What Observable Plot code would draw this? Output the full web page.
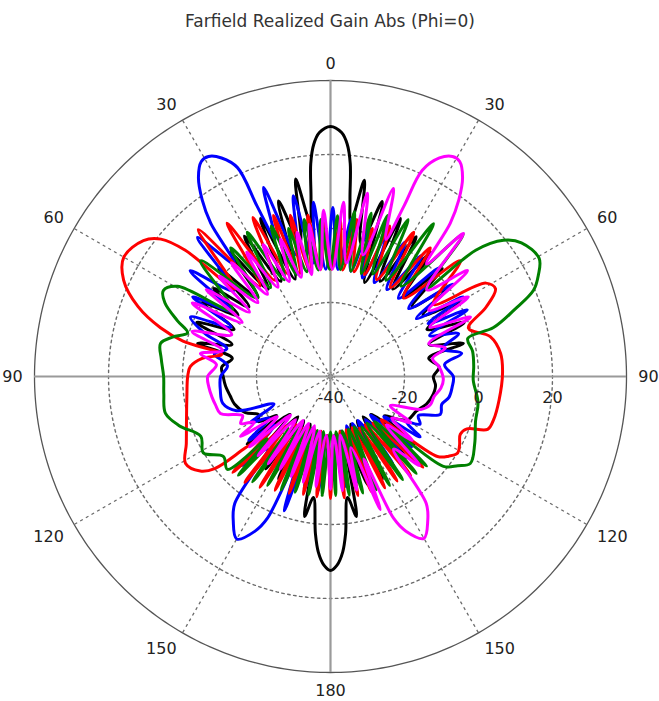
<!DOCTYPE html>
<html><head><meta charset="utf-8">
<script src="https://cdn.jsdelivr.net/npm/d3@7"></script>
<script src="https://cdn.jsdelivr.net/npm/@observablehq/plot@0.6"></script>
<style>body{margin:0;background:#fff}</style>
</head><body><div id="chart"></div>
<script>
const title = "Farfield Realized Gain Abs (Phi=0)";
const rMin = -40, rMax = 40;
const ringTicks = [-20, 0, 20];
const ringLabels = [-40, -20, 0, 20];
const spokeAngles = [30, 60, 120, 150, -30, -60, -120, -150];
const labelAngles = [0, 30, 60, 90, 120, 150, 180, -150, -120, -90, -60, -30];
const labelTexts = ["0", "30", "60", "90", "120", "150", "180", "150", "120", "90", "60", "30"];

// [theta (deg, clockwise from top), gain (dB)]
const black = [[-180,12.4],[-178,11],[-176,7.5],[-174.5,2.6],[-172,-7],[-169.5,-1.5],[-166.5,-22],[-161,-9],[-157,-26],[-153,-9],[-149,-26],[-145,-9.5],[-141,-26],[-137,-10],[-133,-25],[-129,-11],[-126,-22],[-122,-17],[-118,-18],[-113,-15],[-106,-13],[-101,-12.4],[-95,-11.5],[-90,-11],[-85,-10.5],[-79.5,-13],[-76,-3],[-72,-12],[-68,-1],[-64,-11],[-60,0],[-56.5,-10],[-53,-0.5],[-49.5,-11],[-46,2],[-42.5,-11],[-39,3.2],[-35.5,-11],[-31.5,4.5],[-27.5,-11],[-23.9,6.7],[-20,-12],[-16.5,9.5],[-12.8,-3],[-10,14.2],[-7.5,2],[-6.3,8],[-5.3,17.8],[-4.1,23],[-2.6,26],[0,27.6],[2.6,26],[4.1,23],[5.3,17.8],[6.3,8],[7.5,2],[9.8,13.8],[12.8,-3],[16.5,9.3],[20,-13],[23.9,6.7],[27.5,-11],[31.5,4.3],[35.5,-11],[39,3.2],[42.5,-11],[46,2],[49.5,-11],[53,-0.5],[56.5,-10],[60,0],[64,-11],[68,-1],[72,-12],[76,-3],[79.5,-13],[85,-10.5],[90,-12.2],[95,-11.5],[101,-12],[106,-13],[112,-15],[119,-16],[122,-18],[126,-22],[129,-11],[133,-25],[137,-10],[141,-26],[145,-9.5],[149,-26],[153,-9],[157,-26],[161,-9],[166.5,-22],[169.5,-1.5],[172,-7],[174.5,2.6],[176,7.5],[178,11]];

const blue = [[-180,-9.5],[-177,-24],[-174,-9],[-170.5,-24],[-167,-8.5],[-164,-20],[-161,-1.6],[-158,-16],[-156,2],[-154,6.5],[-150,10.7],[-146,7],[-143,3],[-139,-14],[-135,-6],[-131,-20],[-128,-12],[-124,-20],[-120,-15],[-116,-23],[-110,-13],[-104,-10],[-97,-10],[-90,-10.3],[-84,-12],[-79,-8],[-75,-11],[-71,-4],[-67,1.1],[-63.5,-10],[-60,3],[-56.5,-8],[-53,7.5],[-48.5,-5],[-43.7,12],[-40.5,0],[-38,12.6],[-36,19],[-33.6,24.5],[-31,27.8],[-29,28],[-26.5,26],[-24,21.8],[-23.3,10],[-22,0],[-19.5,14.2],[-15.5,-6],[-11.6,9.9],[-8.5,-9],[-5.6,7.3],[-2.5,-11],[0.8,5.7],[4,-11],[7.5,3],[11,-11],[14.5,2],[18,-12],[21.5,1.5],[25,-12],[29,1.5],[33,-12],[37,1],[41,-12],[45,1.5],[49,-12],[53,1.5],[56,-12],[59,1.8],[61.5,-10],[64,1.1],[67.5,-11],[71.5,-3.5],[76,-9],[80,-4],[84,-9],[90,-6.8],[95,-7],[100,-7.5],[104,-9],[109,-8.6],[114,-14],[118,-12.6],[121,-16],[124,-10.8],[127,-22],[131,-11],[134,-25],[137.5,-11],[141,-25],[144.5,-11],[148,-26],[151.5,-11.5],[155,-26],[158.5,-11],[162,-26],[165.5,-10.5],[169,-25],[172.5,-10],[176,-24]];

const red = [[-180,-7],[-176.75,-24],[-173.5,-7.3],[-170.25,-25],[-167,-7.3],[-163.75,-25],[-160.5,-6.5],[-157.25,-25],[-154,-5.8],[-150.75,-24],[-147.5,-4.5],[-144.25,-24],[-141,-3.2],[-137.75,-22],[-134.5,-3],[-132,-18],[-130,-10],[-128.5,0],[-126,3.5],[-121,5.7],[-115,3],[-107,0.7],[-98,-0.8],[-90,-1.4],[-86,-2],[-82,-5],[-78.5,-10],[-76.5,1],[-74,7.8],[-70,15.4],[-65,21.7],[-60,24.5],[-54,22.5],[-51,19],[-49,12],[-47.5,-5],[-42,13.4],[-38,-9],[-34,10],[-30,-10],[-26,7.8],[-22.5,-10],[-19.5,6.2],[-16.7,-11],[-14,4.9],[-11,-11],[-8,4],[-5.3,-11],[-2.5,3.5],[0.5,-11],[3.5,2.5],[6.5,-11],[9.5,3],[12.7,-11],[15.8,1.6],[18.5,-11],[21.5,3.7],[25.5,-11],[30,5],[34,-11],[37.8,4],[43,-11],[48.3,7],[55,-6],[59,9],[62,10.5],[66,6],[70.7,-0.5],[76,4.5],[82.3,6.4],[89,6.5],[98,6],[104.8,5.6],[108.6,4.8],[111,-0.5],[114,-1.6],[118,-0.5],[121,0.1],[124,-1.5],[126.8,-3.9],[130.5,-22],[134.5,-5],[137.75,-23],[141,-5.5],[144.25,-24],[147.5,-6.5],[150.75,-24],[154,-6.5],[157.25,-25],[160.5,-7],[163.75,-25],[167,-7],[170.25,-25],[173.5,-7],[176.75,-24]];

const green = [[-180,-25],[-176,-7.8],[-172.75,-25],[-169.5,-7.5],[-166.25,-25],[-163,-7.3],[-159.75,-25],[-156.5,-6.5],[-153.25,-24],[-150,-6],[-146.75,-24],[-143.5,-4.6],[-140.25,-22],[-137,-3.5],[-134.5,-16],[-132,-2.5],[-126.8,-3.9],[-121,0.1],[-114.8,-1.4],[-108,3],[-102.6,5.7],[-96,5.3],[-90,5.1],[-84,6],[-79,6.8],[-76,4],[-73,0.4],[-70,4],[-66,9],[-62.8,10.8],[-59.5,8],[-56,-8],[-48.3,7],[-43,-11],[-37.8,4],[-34,-11],[-30,5],[-25.5,-11],[-21.5,3.7],[-18.5,-11],[-15.8,1.6],[-12.7,-11],[-9.5,3],[-6.5,-11],[-3.5,2.5],[-0.5,-11],[2.5,3.5],[5.3,-11],[8.3,5],[11,-11],[14,5.5],[16.7,-11],[19.5,6.2],[22.5,-10],[26.3,7.3],[30,-10],[34,9.8],[38,-9],[43,12.6],[47.5,-5],[49,12],[51.8,19.5],[55,23],[60.5,24.8],[64,22.5],[67,19.6],[70,13],[73.3,6],[74.5,-1.5],[80,-1],[86,-1.2],[91.6,-1.4],[100,0.5],[107,1],[115,3],[121.9,4.5],[125,2],[128.5,-1],[130.5,-18],[133,-4.5],[135.75,-23],[138.5,-5],[141.75,-24],[145,-6],[148.25,-24],[151.5,-6.5],[154.75,-25],[158,-7],[161.25,-25],[164.5,-7.3],[167.75,-25],[171,-7.5],[174.25,-25],[177.5,-7.8]];

const magenta = [[-180,-9.5],[-176,-24],[-172.5,-10],[-169,-25],[-165.5,-10.5],[-162,-26],[-158.5,-11],[-155,-26],[-151.5,-11.5],[-148,-26],[-144.5,-11],[-141,-25],[-137.5,-11],[-134,-25],[-131,-11],[-127,-22],[-123.7,-10.8],[-121,-16],[-117.6,-12.6],[-114,-14],[-108.6,-8.6],[-104,-8],[-100,-7.5],[-95,-7],[-90,-6.8],[-84,-9],[-80,-4.3],[-76.5,-10],[-72,-0.7],[-67,-11],[-62,2.3],[-58.5,-12],[-55,1],[-51.5,-12],[-48,0.5],[-44.5,-12],[-41,0.8],[-37.5,-12],[-34,0.5],[-30.5,-12],[-27,0],[-23.5,-12],[-20,-0.5],[-16.5,-12],[-13,0],[-10.5,-12],[-8,1.5],[-5.5,-11],[-2.4,5],[1,-11],[4.3,7.2],[8,-9],[11.4,10.5],[15,-6],[18.5,13.6],[22,0],[23.3,10],[24,21],[26.5,26],[29,28],[31,27.8],[33.6,24.5],[36,19],[38,12.6],[40.5,0],[42.9,12.8],[48,-5],[52.3,6.8],[56,-8],[60,3],[63.5,-10],[67,1.1],[71.5,-12],[76,-8],[80,-12],[85,-10.5],[91.5,-9.5],[96,-10],[101,-11.5],[106,-12],[110,-14],[116,-22],[120,-15],[124,-20],[128,-12],[131,-20],[135,-6],[139,-14],[143,3],[146,7],[150,10.5],[154,6.5],[156,2],[158,-16],[159.5,-1.6],[164,-20],[167,-8.5],[170.5,-24],[174,-9],[177,-24]];

const series = [
  {name: "black", color: "#000000", data: black},
  {name: "blue", color: "#0000ff", data: blue},
  {name: "red", color: "#ff0000", data: red},
  {name: "green", color: "#008000", data: green},
  {name: "magenta", color: "#ff00ff", data: magenta}
];

const rad = d => d * Math.PI / 180;
const R = g => Math.max(0, g - rMin);
const X = (t, g) => R(g) * Math.sin(rad(t));
const Y = (t, g) => R(g) * Math.cos(rad(t));
const outer = rMax - rMin;

// grid circles
const ringPts = [];
for (const v of ringTicks) for (let a = 0; a <= 360; a += 2) ringPts.push({ring: v, x: X(a, v), y: Y(a, v)});
const outerPts = d3.range(0, 361, 1).map(a => ({x: X(a, rMax), y: Y(a, rMax)}));

const labels = labelAngles.map((a, i) => ({a, text: labelTexts[i], x: X(a, rMax + 3.2), y: Y(a, rMax + 3.2)}));
const rl = ringLabels.map(v => ({text: String(v), x: R(v), y: 0}));

const pxPerUnit = 3.7;
const W = 659, H = 701, cx = 330, cy = 376;

const labelMark = (filter, textAnchor, lineAnchor) =>
  Plot.text(labels.filter(filter), {x: "x", y: "y", text: "text", textAnchor, lineAnchor, fontSize: 16, fill: "#222"});

const chart = Plot.plot({
  width: W, height: H, margin: 0,
  x: {domain: [-cx / pxPerUnit, (W - cx) / pxPerUnit], axis: null},
  y: {domain: [-(H - cy) / pxPerUnit, cy / pxPerUnit], axis: null},
  style: {fontFamily: "DejaVu Sans", background: "#fff"},
  marks: [
    Plot.link(spokeAngles, {x1: 0, y1: 0, x2: a => X(a, rMax), y2: a => Y(a, rMax), stroke: "#6a6a6a", strokeWidth: 1.3, strokeDasharray: "3,3.5"}),
    Plot.line(ringPts, {x: "x", y: "y", z: "ring", stroke: "#6a6a6a", strokeWidth: 1.4, strokeDasharray: "2.5,3.5"}),
    Plot.line(outerPts, {x: "x", y: "y", stroke: "#555", strokeWidth: 1.3}),
    Plot.ruleX([0], {y1: -outer, y2: outer, stroke: "#9a9a9a", strokeWidth: 2.2}),
    Plot.ruleY([0], {x1: -outer, x2: outer, stroke: "#9a9a9a", strokeWidth: 2.2}),
    Plot.dot([0], {x: 0, y: 0, r: 4, stroke: "#888", strokeDasharray: "1.5,1.5", fill: "none"}),
    ...series.map(s => Plot.line(s.data, {x: d => X(d[0], d[1]), y: d => Y(d[0], d[1]), curve: "catmull-rom-closed", stroke: s.color, strokeWidth: 3, strokeLinejoin: "round"})),
    labelMark(d => d.a === 0, "middle", "bottom"),
    labelMark(d => d.a === 180, "middle", "top"),
    labelMark(d => d.a > 0 && d.a < 90, "start", "bottom"),
    labelMark(d => d.a === 90, "start", "middle"),
    labelMark(d => d.a > 90 && d.a < 180, "start", "top"),
    labelMark(d => d.a < 0 && d.a > -90, "end", "bottom"),
    labelMark(d => d.a === -90, "end", "middle"),
    labelMark(d => d.a < -90 && d.a > -180, "end", "top"),
    Plot.text(rl, {x: "x", y: "y", text: "text", dy: 21, fontSize: 16, fill: "#222"}),
    Plot.text([title], {frameAnchor: "top", dy: 14, fontSize: 17, fill: "#333"})
  ]
});
document.getElementById("chart").appendChild(chart);
</script>
</body></html>
